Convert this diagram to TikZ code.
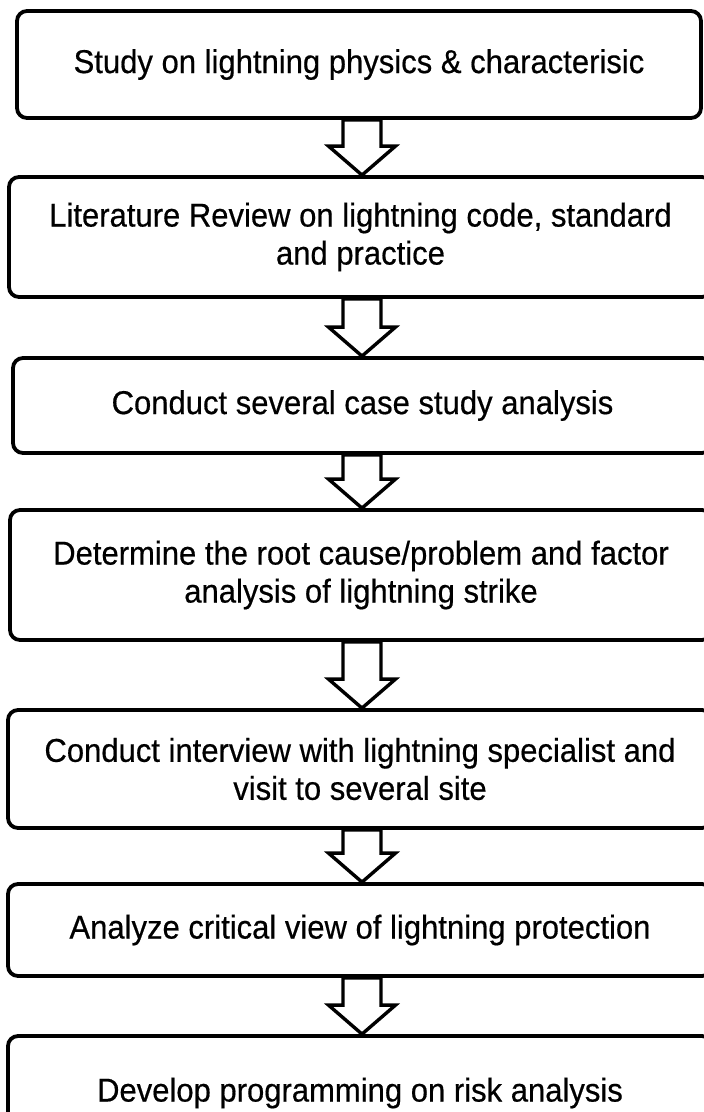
\documentclass[tikz,border=0pt]{standalone}
\usepackage{fontspec}
\setmainfont{Liberation Sans}[FakeBold=0.5,FakeStretch=0.94]
\usetikzlibrary{calc}
\newcommand\flowarrow[2]{%
  \draw[barrow] let \p1=(#1.south), \p2=(#2.north) in
    (343pt,\y1) -- (343pt,\y2+29pt) -- (328.5pt,\y2+29pt) -- (362pt,\y2)
    -- (395.5pt,\y2+29pt) -- (381pt,\y2+29pt) -- (381pt,\y1) -- cycle;}
\begin{document}
\begin{tikzpicture}[x=1pt,y=1pt,
  box/.style={draw=black, line width=3.8pt, rounded corners=10pt, inner sep=0pt,
    align=center, fill=white, font=\fontsize{33}{38}\selectfont},
  barrow/.style={draw=black, line width=3.4pt, fill=white, line join=miter}]
\useasboundingbox (0,0) rectangle (704,-1112);
\clip (0,0) rectangle (704,-1112);
\node[box, minimum width=684pt, minimum height=107pt] (b1) at (359,-64.5)
  {Study on lightning physics \& characterisic};
\node[box, minimum width=703pt, minimum height=120pt] (b2) at (360.5,-237)
  {Literature Review on lightning code, standard\\and practice};
\node[box, minimum width=699pt, minimum height=95pt] (b3) at (362.5,-405.5)
  {Conduct several case study analysis};
\node[box, minimum width=702pt, minimum height=130pt] (b4) at (361,-575)
  {Determine the root cause/problem and factor\\analysis of lightning strike};
\node[box, minimum width=704pt, minimum height=118pt] (b5) at (360,-769)
  {Conduct interview with lightning specialist and\\visit to several site};
\node[box, minimum width=704pt, minimum height=92pt] (b6) at (360,-930)
  {Analyze critical view of lightning protection};
\node[box, minimum width=704pt, minimum height=114pt] (b7) at (360,-1093)
  {Develop programming on risk analysis};
\flowarrow{b1}{b2}
\flowarrow{b2}{b3}
\flowarrow{b3}{b4}
\flowarrow{b4}{b5}
\flowarrow{b5}{b6}
\flowarrow{b6}{b7}
\end{tikzpicture}
\end{document}
